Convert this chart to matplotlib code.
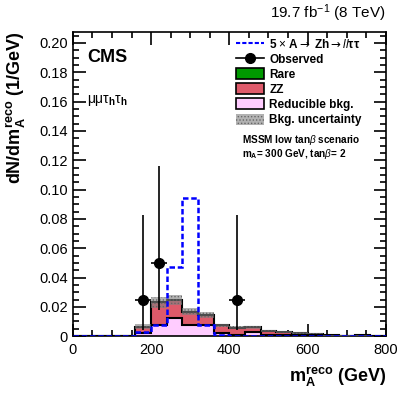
import numpy as np
import matplotlib
matplotlib.use('Agg')
import matplotlib.pyplot as plt
from matplotlib.patches import Patch
from matplotlib.lines import Line2D
from matplotlib.ticker import MultipleLocator

plt.rcParams['font.family'] = ['Liberation Sans', 'DejaVu Sans']
plt.rcParams['mathtext.fontset'] = 'custom'
plt.rcParams['mathtext.rm'] = 'Liberation Sans'
plt.rcParams['mathtext.it'] = 'Liberation Sans:italic'
plt.rcParams['mathtext.bf'] = 'Liberation Sans:bold'
plt.rcParams['mathtext.sf'] = 'DejaVu Sans'
plt.rcParams['hatch.color'] = '#666666'
plt.rcParams['hatch.linewidth'] = 0.6

# --- data -------------------------------------------------------------------
edges = np.arange(0, 801, 40)
reducible = [0, 0, 0, 0, 0.0020, 0.0076, 0.0122, 0.0076, 0.0076, 0.0023,
             0.0011, 0.0030, 0.0011, 0.0006, 0.0005, 0.0004, 0.0002, 0.0001, 0.0002, 0.0001]
zz = [0, 0, 0, 0, 0.0043, 0.0149, 0.0118, 0.0088, 0.0064, 0.0049,
      0.0045, 0.0028, 0.0022, 0.0021, 0.0017, 0.0013, 0.0003, 0.0003, 0.0004, 0.0002]
rare = [0, 0, 0, 0, 0.0002, 0.0005, 0.0005, 0.0004, 0.0003, 0.0002,
        0.0002, 0.0002, 0.0001, 0.0001, 0.0001, 0.0001, 0.0000, 0.0000, 0.0000, 0.0000]
bkg_unc = [0, 0, 0, 0, 0.0015, 0.0035, 0.0035, 0.0025, 0.0020, 0.0010,
           0.0010, 0.0010, 0.0007, 0.0006, 0.0005, 0.0004, 0.0002, 0.0002, 0.0002, 0.0001]
signal = [0, 0, 0, 0, 0.0030, 0.0076, 0.0470, 0.0940, 0.0076, 0.0005,
          0.0004, 0.0003, 0.0003, 0.0002, 0.0002, 0.0001, 0.0001, 0.0001, 0.0001, 0.0001]

obs_x = [180, 220, 420]
obs_y = [0.025, 0.050, 0.025]
obs_err_lo = [0.0207, 0.0323, 0.0207]
obs_err_hi = [0.0575, 0.0660, 0.0575]
obs_xerr = [20, 20, 20]

# --- figure -----------------------------------------------------------------
fig = plt.figure(figsize=(4.07, 3.95), dpi=100)
ax = fig.add_axes([0.179, 0.149, 0.769, 0.770])

c_red = '#de5a6a'
c_pink = '#ffccff'
c_green = '#009900'
c_unc = (0.5, 0.5, 0.5, 0.6)

b1 = np.array(reducible)
b2 = b1 + np.array(zz)
b3 = b2 + np.array(rare)
unc = np.array(bkg_unc)

ax.stairs(b1, edges, baseline=0, fill=True, color=c_pink, zorder=2)
ax.stairs(b2, edges, baseline=b1, fill=True, color=c_red, zorder=2)
ax.stairs(b3, edges, baseline=b2, fill=True, color=c_green, zorder=2)
ax.stairs(b1, edges, color='black', lw=1.5, zorder=3)
ax.stairs(b3, edges, color='black', lw=1.5, zorder=3)
ax.stairs(b3 + unc, edges, baseline=np.clip(b3 - unc, 0, None), fill=True,
          facecolor=c_unc, edgecolor='#666666', hatch='.....', lw=0, zorder=4)

ax.stairs(signal, edges, color='#0000ff', lw=1.8, ls=(0, (2.2, 1.1)), zorder=5)

ax.errorbar(obs_x, obs_y, yerr=[obs_err_lo, obs_err_hi], xerr=obs_xerr, fmt='o',
            color='black', ms=7, lw=1.2, capsize=0, zorder=6)

ax.set_xlim(0, 800)
ax.set_ylim(0, 0.2075)
ax.xaxis.set_major_locator(MultipleLocator(200))
ax.xaxis.set_minor_locator(MultipleLocator(50))
ax.yaxis.set_major_locator(MultipleLocator(0.02))
ax.yaxis.set_minor_locator(MultipleLocator(0.005))
ax.yaxis.set_major_formatter(plt.FuncFormatter(lambda v, p: '0' if v == 0 else f'{v:.2f}'))
ax.tick_params(which='both', direction='in', top=True, right=True, labelsize=10.5, width=1.2)
ax.tick_params(which='major', length=9)
ax.tick_params(which='minor', length=4.5)
ax.tick_params(axis='x', pad=5)
for s in ax.spines.values():
    s.set_linewidth(1.2)

ax.set_xlabel(r'$\mathbf{m_{A}^{reco}}$ (GeV)', fontsize=13, fontweight='bold', loc='right', labelpad=6)
ax.set_ylabel(r'$\mathbf{dN/dm_{A}^{reco}}$ (1/GeV)', fontsize=13, fontweight='bold', loc='top', labelpad=8)

fig.text(0.948, 0.938, r'19.7 fb$^{-1}$ (8 TeV)', ha='right', va='bottom', fontsize=11)
ax.text(0.045, 0.915, 'CMS', transform=ax.transAxes, fontsize=13, fontweight='bold', va='center')
ax.text(0.045, 0.775, r'$\mathrm{μμτ}_{\mathbf{h}}\mathrm{τ}_{\mathbf{h}}$', transform=ax.transAxes,
        fontsize=10, va='center')

handles = [
    Line2D([], [], color='#0000ff', lw=1.5, ls=(0, (2, 1))),
    Line2D([], [], color='black', lw=1.2, marker='o', ms=7),
    Patch(facecolor=c_green, edgecolor='black', lw=1.2),
    Patch(facecolor=c_red, edgecolor='black', lw=1.2),
    Patch(facecolor=c_pink, edgecolor='black', lw=1.2),
    Patch(facecolor=c_unc, edgecolor='#666666', hatch='.....', lw=0),
]
labels = [r'5 $\times$ A$\mathsf{\rightarrow}$ Zh$\mathsf{\rightarrow}$$\mathit{ll}$ττ', 'Observed',
          'Rare', 'ZZ', 'Reducible bkg.', 'Bkg. uncertainty']
leg = ax.legend(handles, labels, loc='upper left', bbox_to_anchor=(0.5, 1.005), frameon=False,
                prop={'size': 8.5, 'weight': 'bold'}, handlelength=2.3, handleheight=1.05,
                labelspacing=0.22, handletextpad=0.5, borderaxespad=0.2)

ax.text(0.54, 0.645, r'MSSM low tan$\beta$ scenario', transform=ax.transAxes,
        fontsize=7.2, fontweight='bold', va='center')
ax.text(0.54, 0.599, r'm$_{\mathbf{A}}$= 300 GeV, tan$\beta$= 2', transform=ax.transAxes,
        fontsize=7.2, fontweight='bold', va='center')

fig.savefig('out.png', dpi=100)
